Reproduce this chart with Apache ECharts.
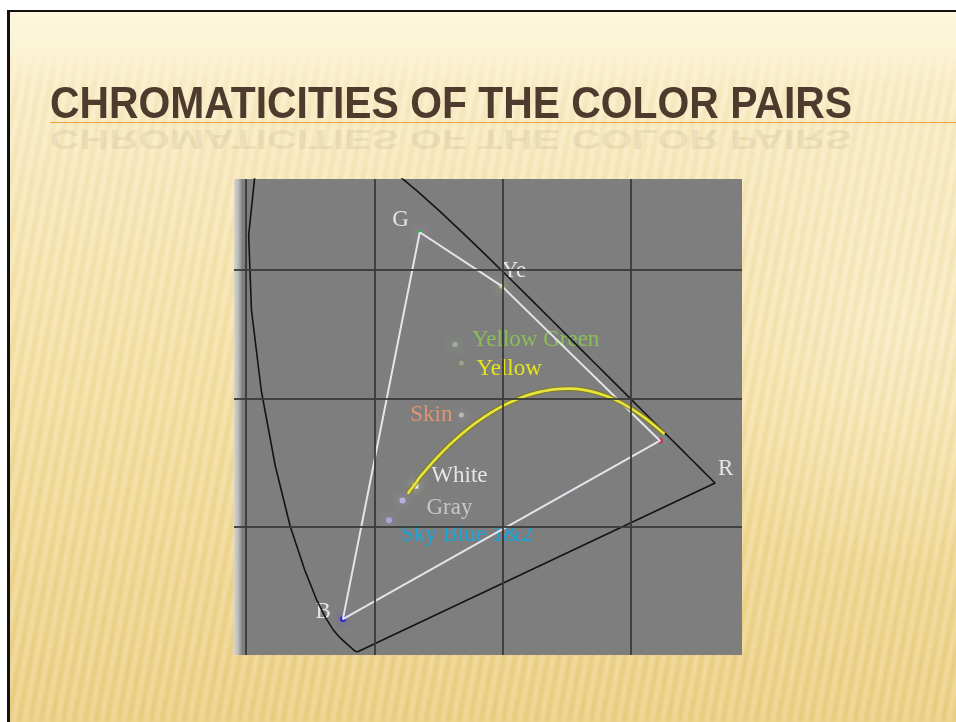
<!DOCTYPE html>
<html>
<head>
<meta charset="utf-8">
<script src="https://cdn.jsdelivr.net/npm/echarts@6/dist/echarts.min.js"></script>
<style>
  html, body { margin: 0; padding: 0; background: #ffffff; }
  #chart { width: 956px; height: 722px; }
</style>
</head>
<body>
<div id="chart"></div>
<script>
// CIE 1931 2° spectral locus, 380–700 nm (x, y)
const locusX = [0.1741,0.1740,0.1738,0.1736,0.1733,0.1730,0.1726,0.1721,0.1714,0.1703,0.1689,0.1669,0.1644,0.1611,0.1566,0.1510,0.1440,0.1355,0.1241,0.1096,0.0913,0.0687,0.0454,0.0235,0.0082,0.0039,0.0139,0.0389,0.0743,0.1142,0.1547,0.1929,0.2296,0.2658,0.3016,0.3373,0.3731,0.4087,0.4441,0.4788,0.5125,0.5448,0.5752,0.6029,0.6270,0.6482,0.6658,0.6801,0.6915,0.7006,0.7079,0.7140,0.7190,0.7230,0.7260,0.7283,0.7300,0.7311,0.7320,0.7334,0.7347];
const locusY = [0.0050,0.0050,0.0049,0.0049,0.0048,0.0048,0.0048,0.0048,0.0051,0.0058,0.0069,0.0086,0.0109,0.0138,0.0177,0.0227,0.0297,0.0399,0.0578,0.0868,0.1327,0.2007,0.2950,0.4127,0.5384,0.6548,0.7502,0.8120,0.8338,0.8262,0.8059,0.7816,0.7543,0.7243,0.6923,0.6589,0.6245,0.5896,0.5547,0.5202,0.4866,0.4544,0.4242,0.3965,0.3725,0.3514,0.3340,0.3197,0.3083,0.2993,0.2920,0.2859,0.2809,0.2770,0.2740,0.2717,0.2700,0.2689,0.2680,0.2666,0.2653];

// Planckian (black-body) locus, 1000 K to 25000 K
const planckX = [0.6528,0.6251,0.5985,0.5732,0.5493,0.5267,0.5056,0.4770,0.4520,0.4369,0.4053,0.3805,0.3608,0.3451,0.3325,0.3221,0.3135,0.3064,0.2952,0.2869,0.2807,0.2719,0.2637,0.2560,0.2524];
const planckY = [0.3444,0.3674,0.3858,0.3993,0.4082,0.4133,0.4152,0.4137,0.4086,0.4041,0.3907,0.3768,0.3636,0.3516,0.3411,0.3318,0.3237,0.3166,0.3048,0.2956,0.2884,0.2782,0.2668,0.2567,0.2515];

// Display primaries (gamut outline G → Ye → R → B)
const primaryNames = ['G', 'Ye', 'R', 'B'];
const primaryX = [0.271, 0.399, 0.646, 0.151];
const primaryY = [0.659, 0.575, 0.334, 0.056];

// Measured colour pairs
const sampleNames = ['Yellow Green', 'Yellow', 'Skin', 'White', 'Gray', 'Sky Blue 1&2'];
const sampleX = [0.326, 0.336, 0.336, 0.264, 0.244, 0.223];
const sampleY = [0.484, 0.455, 0.374, 0.264, 0.241, 0.210];

// Grid line positions
const gridLinesX = [0, 0.2, 0.4, 0.6];
const gridLinesY = [0.2, 0.4, 0.6];

const slideTitle = 'CHROMATICITIES OF THE COLOR PAIRS';

// ---- styles ----
const serif = '"Liberation Serif", "Times New Roman", serif';
const pointStyle = {
  'G':            { color: '#2FB040', size: 6, glow: 'rgba(235,120,235,1)',   label: '#FFFFFF', offset: [-11, -12], align: 'right' },
  'Ye':           { color: '#D6DA6A', size: 5, glow: 'rgba(220,230,90,0.9)',  label: '#FFFFFF', offset: [0, -15],  align: 'left' },
  'R':            { color: '#D81E50', size: 6, glow: 'rgba(90,200,130,0.8)',  label: '#FFFFFF', offset: [58, 28],  align: 'left' },
  'B':            { color: '#1A16D8', size: 6, glow: 'rgba(40,40,255,0.8)',   label: '#FFFFFF', offset: [-12, -7], align: 'right' },
  'Yellow Green': { color: '#AEB8A6', size: 5, glow: 'rgba(150,210,150,0.8)', label: '#8CD04C', offset: [17, -5],  align: 'left' },
  'Yellow':       { color: '#ABAB8C', size: 5, glow: 'rgba(110,110,50,0.8)',  label: '#FFFF00', offset: [15, 6],   align: 'left' },
  'Skin':         { color: '#C6C6C6', size: 5, glow: 'rgba(210,210,210,0.7)', label: '#F79B6B', offset: [-9, 0],   align: 'right' },
  'White':        { color: '#FFFFFF', size: 6, glow: 'rgba(255,255,200,0.8)', label: '#FFFFFF', offset: [16, -10], align: 'left', symbol: 'rect' },
  'Gray':         { color: '#C8B8F2', size: 6, glow: 'rgba(200,180,255,0.8)', label: '#D9D9D9', offset: [24, 8],   align: 'left' },
  'Sky Blue 1&2': { color: '#BBA9EA', size: 6, glow: 'rgba(190,170,240,0.8)', label: '#00B0F0', offset: [12, 15],  align: 'left' }
};

function labelledPoints(names, xs, ys) {
  return names.map((n, i) => {
    const s = pointStyle[n];
    return {
      name: n,
      value: [xs[i], ys[i]],
      symbol: s.symbol || 'circle',
      symbolSize: s.size,
      itemStyle: { color: s.color, shadowBlur: 8, shadowColor: s.glow },
      label: {
        show: true, position: 'inside', formatter: '{b}',
        offset: s.offset, align: s.align, verticalAlign: 'middle',
        color: s.label, fontFamily: serif, fontSize: 23
      }
    };
  });
}

const pairs = (xs, ys) => xs.map((x, i) => [x, ys[i]]);

// ---- slide background (gradient with soft diagonal stripes) ----
const W = 956, H = 722;
const bg = document.createElement('canvas');
bg.width = W; bg.height = H;
const c = bg.getContext('2d');
c.fillStyle = '#ffffff';
c.fillRect(0, 0, W, H);
const grad = c.createLinearGradient(0, 12, 0, H);
grad.addColorStop(0, '#FDF6DC');
grad.addColorStop(0.15, '#FBEFCB');
grad.addColorStop(0.55, '#F6E3A8');
grad.addColorStop(1, '#EDD38A');
c.fillStyle = grad;
c.fillRect(10, 12, W - 10, H - 12);
const glow = c.createRadialGradient(900, 330, 10, 900, 330, 240);
glow.addColorStop(0, 'rgba(255,246,222,0.6)');
glow.addColorStop(1, 'rgba(255,246,222,0)');
c.fillStyle = glow;
c.fillRect(10, 12, W - 10, H - 12);

const st = document.createElement('canvas');
st.width = W; st.height = H;
const s2 = st.getContext('2d');
s2.filter = 'blur(2px)';
for (let x = -300; x < W + 200; x += 11) {
  s2.beginPath();
  s2.moveTo(x, H);
  s2.lineTo(x + 135, 0);
  s2.lineWidth = 4.5;
  s2.strokeStyle = 'rgba(200,156,56,0.22)';
  s2.stroke();
  s2.beginPath();
  s2.moveTo(x + 5.5, H);
  s2.lineTo(x + 140.5, 0);
  s2.lineWidth = 3;
  s2.strokeStyle = 'rgba(255,250,230,0.35)';
  s2.stroke();
}
s2.filter = 'none';
s2.globalCompositeOperation = 'destination-in';
const mask = s2.createLinearGradient(0, 0, 0, H);
mask.addColorStop(0, 'rgba(0,0,0,0)');
mask.addColorStop(0.07, 'rgba(0,0,0,0)');
mask.addColorStop(0.12, 'rgba(0,0,0,0.7)');
mask.addColorStop(0.35, 'rgba(0,0,0,0.8)');
mask.addColorStop(1, 'rgba(0,0,0,1)');
s2.fillStyle = mask;
s2.fillRect(0, 0, W, H);
c.drawImage(st, 10, 12, W - 10, H - 12, 10, 12, W - 10, H - 12);

// slide frame
c.fillStyle = '#111111';
c.fillRect(7, 10, 3, H - 10);
c.fillRect(7, 10, W - 7, 2);

// ---- title sizing ----
const titleFont = 'bold 45px "Liberation Sans Narrow", "Arial Narrow", "Liberation Sans", sans-serif';
const meas = document.createElement('canvas').getContext('2d');
meas.font = titleFont;
const titleScale = 802 / meas.measureText(slideTitle).width;

// ---- plot frame ----
const plot = { left: 234, top: 179, width: 508, height: 476 };

const chart = echarts.init(document.getElementById('chart'), null, { renderer: 'canvas' });

chart.setOption({
  animation: false,
  graphic: [
    { type: 'image', z: 0, style: { image: bg, x: 0, y: 0, width: W, height: H } },
    {
      // faint mirrored title
      type: 'text', z: 1, x: 50, y: 124, scaleX: titleScale, scaleY: -0.6, originX: 0, originY: 0,
      style: { text: slideTitle, font: titleFont, fill: 'rgba(110,90,60,0.09)', verticalAlign: 'bottom', align: 'left',
               shadowBlur: 3, shadowColor: 'rgba(110,90,60,0.15)' }
    },
    { type: 'line', z: 1, shape: { x1: 50, y1: 122.5, x2: W, y2: 122.5 }, style: { stroke: '#F0A23A', lineWidth: 1 } },
    {
      type: 'text', z: 2, x: 50, y: 106, scaleX: titleScale, originX: 0, originY: 0,
      style: { text: slideTitle, font: titleFont, fill: '#4E3B2D', verticalAlign: 'middle', align: 'left' }
    },
    { type: 'rect', z: 1, shape: { x: plot.left, y: plot.top, width: plot.width, height: plot.height }, style: { fill: '#7E7E7E' } },
    {
      type: 'rect', z: 1, shape: { x: plot.left, y: plot.top, width: 8, height: plot.height },
      style: { fill: new echarts.graphic.LinearGradient(0, 0, 1, 0, [
        { offset: 0, color: '#D6D6CE' }, { offset: 0.5, color: '#BDBDB8' }, { offset: 1, color: '#858585' }
      ]) }
    }
  ],
  grid: { left: plot.left, top: plot.top, width: plot.width, height: plot.height, show: false },
  xAxis: {
    type: 'value', min: -0.019, max: 0.774,
    axisLine: { show: false }, axisTick: { show: false }, axisLabel: { show: false }, splitLine: { show: false }
  },
  yAxis: {
    type: 'value', min: 0, max: 0.742,
    axisLine: { show: false }, axisTick: { show: false }, axisLabel: { show: false }, splitLine: { show: false }
  },
  series: [
    {
      // grid lines
      type: 'line', data: [], silent: true,
      markLine: {
        silent: true, symbol: 'none', label: { show: false },
        lineStyle: { color: '#3A3A3A', width: 2, type: 'solid', opacity: 0.9 },
        data: gridLinesX.map(v => ({ xAxis: v })).concat(gridLinesY.map(v => ({ yAxis: v })))
      }
    },
    {
      // spectral locus closed by the purple line
      type: 'line', showSymbol: false, silent: true, clip: true,
      data: pairs(locusX, locusY).concat([[locusX[0], locusY[0]]]),
      lineStyle: { color: '#141414', width: 1.6 }
    },
    {
      // display gamut
      type: 'line', showSymbol: false, silent: true,
      data: pairs(primaryX, primaryY).concat([[primaryX[0], primaryY[0]]]),
      lineStyle: { color: '#E4E4EC', width: 2 }
    },
    {
      type: 'line', showSymbol: false, silent: true, smooth: 0.3,
      data: pairs(planckX, planckY),
      lineStyle: { color: '#7E7A18', width: 5, opacity: 0.8 }
    },
    {
      type: 'line', showSymbol: false, silent: true, smooth: 0.3,
      data: pairs(planckX, planckY),
      lineStyle: { color: '#E8E43E', width: 2.6 }
    },
    {
      type: 'scatter', silent: true,
      data: labelledPoints(primaryNames, primaryX, primaryY)
    },
    {
      type: 'scatter', silent: true,
      data: labelledPoints(sampleNames, sampleX, sampleY)
    }
  ]
});
</script>
</body>
</html>
